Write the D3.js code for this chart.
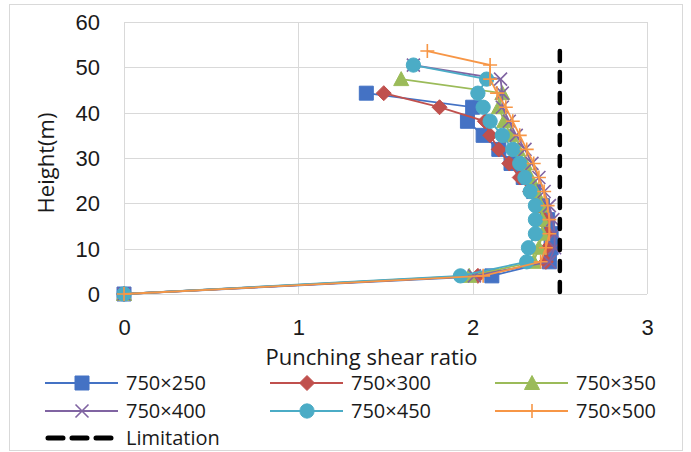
<!DOCTYPE html>
<head>
  <meta charset="utf-8">
  <script src="https://d3js.org/d3.v7.min.js"></script>
  <style>
    body { margin: 0; background: #fff; }
    svg { width: 691px; height: 452px; font-family: "Open Sans", "Noto Sans", sans-serif; }
    .grid line { stroke: #d9d9d9; stroke-width: 1; }
    .tick text { font-size: 22px; fill: #1a1a1a; }
  </style>
</head>
<body>
  <svg></svg>
  <script>
    // storey heights (m)
    var heights = [0, 4, 7.1, 10.2, 13.3, 16.4, 19.5, 22.6, 25.7, 28.8, 31.9, 35, 38.1, 41.2, 44.3, 47.4, 50.5, 53.6];

    // punching shear ratio per series, from the ground up
    var s250 = [0, 2.11, 2.44, 2.45, 2.45, 2.43, 2.40, 2.35, 2.29, 2.22, 2.15, 2.06, 1.97, 2.00, 1.39];
    var s300 = [0, 2.03, 2.42, 2.43, 2.43, 2.41, 2.38, 2.33, 2.27, 2.21, 2.15, 2.10, 2.07, 1.81, 1.49];
    var s350 = [0, 1.98, 2.35, 2.38, 2.40, 2.40, 2.39, 2.36, 2.33, 2.30, 2.26, 2.22, 2.18, 2.15, 2.17, 1.59];
    var s400 = [0, 2.01, 2.44, 2.47, 2.47, 2.46, 2.44, 2.41, 2.38, 2.34, 2.30, 2.25, 2.21, 2.17, 2.17, 2.16, 1.66];
    var s450 = [0, 1.93, 2.31, 2.32, 2.36, 2.36, 2.36, 2.33, 2.30, 2.27, 2.23, 2.17, 2.10, 2.06, 2.03, 2.08, 1.66];
    var s500 = [0, 2.06, 2.39, 2.42, 2.44, 2.44, 2.43, 2.41, 2.38, 2.35, 2.31, 2.27, 2.23, 2.19, 2.14, 2.10, 2.10, 1.74];

    var seriesNames = ['750×250', '750×300', '750×350', '750×400', '750×450', '750×500'];
    var seriesValues = [s250, s300, s350, s400, s450, s500];
    var seriesColors = ['#4472C4', '#C0504D', '#9BBB59', '#8064A2', '#4BACC6', '#F79646'];
    var seriesMarkers = ['square', 'diamond', 'triangle', 'x', 'circle', 'plus'];

    var limitValue = 2.5;
    var limitTop = 54;

    var xTicks = [0, 1, 2, 3];
    var yTicks = [0, 10, 20, 30, 40, 50, 60];

    var svg = d3.select('svg');

    // outer chart frame
    svg.append('rect')
      .attr('x', 9.5).attr('y', 4.5)
      .attr('width', 673).attr('height', 446)
      .attr('fill', 'none').attr('stroke', '#d9d9d9');

    var x = d3.scaleLinear().domain([0, 3]).range([124, 647]);
    var y = d3.scaleLinear().domain([0, 60]).range([294, 22]);

    // gridlines
    var grid = svg.append('g').attr('class', 'grid');
    grid.selectAll('line.h').data(yTicks).enter().append('line')
      .attr('x1', x(0)).attr('x2', x(3))
      .attr('y1', function(d) { return Math.round(y(d)) + 0.5; })
      .attr('y2', function(d) { return Math.round(y(d)) + 0.5; });
    grid.selectAll('line.v').data(xTicks).enter().append('line')
      .attr('y1', y(0)).attr('y2', y(60))
      .attr('x1', function(d) { return Math.round(x(d)) + 0.5; })
      .attr('x2', function(d) { return Math.round(x(d)) + 0.5; });

    // axes (labels only)
    var xAxis = svg.append('g')
      .attr('transform', 'translate(0,' + (y(0) + 22) + ')')
      .call(d3.axisBottom(x).tickValues(xTicks).tickSize(0).tickFormat(d3.format('d')));
    var yAxis = svg.append('g')
      .attr('transform', 'translate(' + (x(0) - 24) + ',0)')
      .call(d3.axisLeft(y).tickValues(yTicks).tickSize(0).tickFormat(d3.format('d')));
    svg.selectAll('.domain').remove();
    yAxis.selectAll('text').attr('x', 0).attr('dy', '0.34em');

    svg.append('text')
      .attr('x', (x(0) + x(3)) / 2 - 14).attr('y', 365)
      .attr('text-anchor', 'middle')
      .style('font-size', '22px').style('fill', '#1a1a1a')
      .text('Punching shear ratio');
    svg.append('text')
      .attr('transform', 'translate(54,' + ((y(0) + y(60)) / 2 + 5) + ')rotate(-90)')
      .attr('text-anchor', 'middle')
      .style('font-size', '22px').style('fill', '#1a1a1a')
      .text('Height(m)');

    // marker shapes, centred on 0,0
    function markerPath(type) {
      switch (type) {
        case 'square': return 'M-7,-7H7V7H-7Z';
        case 'diamond': return 'M0,-7.5L7.5,0L0,7.5L-7.5,0Z';
        case 'triangle': return 'M0,-7.5L7.5,6.5L-7.5,6.5Z';
        case 'x': return 'M-6.5,-6.5L6.5,6.5M-6.5,6.5L6.5,-6.5';
        case 'plus': return 'M-7,0H7M0,-7V7';
        default: return d3.symbol().type(d3.symbolCircle).size(160)();
      }
    }
    function drawMarker(g, type, color) {
      var stroked = type === 'x' || type === 'plus';
      g.append('path')
        .attr('d', markerPath(type))
        .attr('fill', stroked ? 'none' : color)
        .attr('stroke', color)
        .attr('stroke-width', stroked ? 1.6 : 1);
    }

    var line = d3.line()
      .x(function(d) { return x(d[0]); })
      .y(function(d) { return y(d[1]); });

    seriesValues.forEach(function(vals, i) {
      var pts = vals.map(function(v, j) { return [v, heights[j]]; });
      var g = svg.append('g');
      g.append('path')
        .attr('d', line(pts))
        .attr('fill', 'none')
        .attr('stroke', seriesColors[i])
        .attr('stroke-width', 1.8);
      pts.forEach(function(p) {
        var m = g.append('g').attr('transform', 'translate(' + x(p[0]) + ',' + y(p[1]) + ')');
        drawMarker(m, seriesMarkers[i], seriesColors[i]);
      });
    });

    // limitation line
    svg.append('line')
      .attr('x1', x(limitValue)).attr('x2', x(limitValue))
      .attr('y1', y(0) - 2).attr('y2', y(limitTop))
      .attr('stroke', '#000')
      .attr('stroke-width', 4.5)
      .attr('stroke-linecap', 'round')
      .attr('stroke-dasharray', '10,11');

    // legend
    var legendCols = [45, 270, 495];
    var legendRows = [383, 411, 438];
    seriesNames.forEach(function(name, i) {
      var lx = legendCols[i % 3], ly = legendRows[Math.floor(i / 3)];
      var g = svg.append('g').attr('transform', 'translate(' + lx + ',' + ly + ')');
      g.append('line').attr('x1', 0).attr('x2', 73)
        .attr('stroke', seriesColors[i]).attr('stroke-width', 1.8);
      drawMarker(g.append('g').attr('transform', 'translate(37,0)'), seriesMarkers[i], seriesColors[i]);
      g.append('text').attr('x', 81).attr('dy', '0.35em')
        .style('font-size', '20px').style('fill', '#1a1a1a')
        .text(name);
    });
    var lg = svg.append('g').attr('transform', 'translate(' + legendCols[0] + ',' + legendRows[2] + ')');
    lg.append('line').attr('x1', 3).attr('x2', 72)
      .attr('stroke', '#000').attr('stroke-width', 5)
      .attr('stroke-linecap', 'round')
      .attr('stroke-dasharray', '15,9');
    lg.append('text').attr('x', 81).attr('dy', '0.35em')
      .style('font-size', '20px').style('fill', '#1a1a1a')
      .text('Limitation');
  </script>
</body>
